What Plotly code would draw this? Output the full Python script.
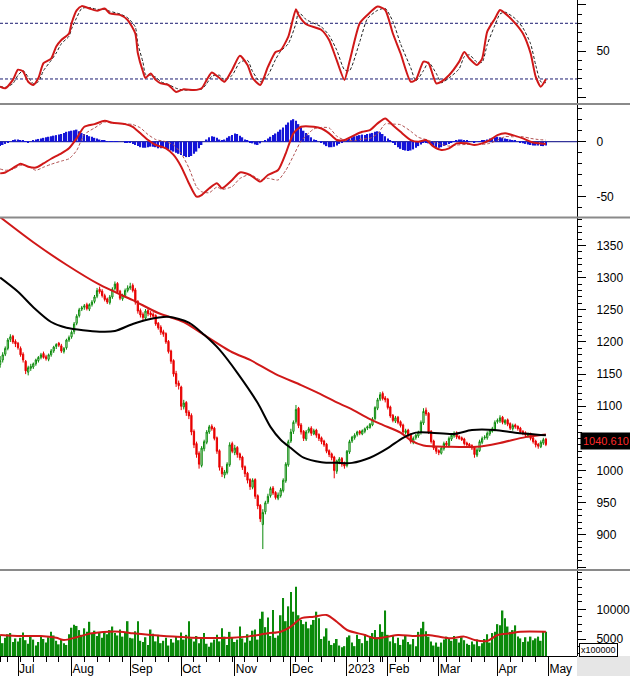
import pandas as pd
import plotly.graph_objects as go

# ---------------- categories (trading days) ----------------
holidays = ['2022-09-01', '2022-09-02', '2023-01-02', '2023-01-20', '2023-01-23',
            '2023-01-24', '2023-01-25', '2023-01-26']
dates = [d for d in pd.bdate_range('2022-06-22', '2023-04-28')
         if d.strftime('%Y-%m-%d') not in holidays]
month_labels = ['Jul', 'Aug', 'Sep', 'Oct', 'Nov', 'Dec', '2023', 'Feb', 'Mar', 'Apr', 'May']
price_ticks = [850, 900, 950, 1000, 1050, 1100, 1150, 1200, 1250, 1300, 1350]
price_tick_text = ['', '900', '950', '1000', '', '1100', '1150', '1200', '1250', '1300', '1350']

# ---------------- price (OHLC) ----------------
opens = [1165, 1172, 1181, 1190, 1204, 1209, 1201,
         1198, 1190, 1181, 1170, 1153, 1159, 1161, 1166, 1171, 1176, 1182, 1177, 1173, 1180, 1186, 1193, 1198, 1194, 1185, 1191, 1203,
         1208, 1216, 1229, 1241, 1251, 1254, 1258, 1251, 1258, 1263, 1271, 1282, 1279, 1272, 1267, 1261, 1270, 1283, 1291, 1279, 1267, 1272, 1280,
         1284, 1288, 1281, 1263, 1249, 1243, 1237, 1249, 1245, 1243, 1241, 1229, 1223, 1216, 1213, 1201, 1186, 1171, 1151, 1136,
         1130, 1099, 1106, 1091, 1086, 1061, 1042, 1027, 1008, 1034, 1044, 1060, 1069, 1066, 1051, 1031, 1004, 993, 997, 1009, 1042,
         1028, 1036, 1026, 1021, 1006, 996, 986, 974, 986, 961, 946, 916, 936, 951, 961, 973, 966, 957, 961, 969, 984, 1009,
         1046, 1061, 1076, 1097, 1071, 1061, 1049, 1061, 1066, 1057, 1063, 1056, 1051, 1046, 1041, 1031, 1026, 1021, 999, 1014, 1019, 1011,
         1008, 1029, 1046, 1051, 1056, 1061, 1057, 1061, 1066, 1067, 1071, 1081, 1097, 1111, 1120, 1113,
         1111, 1099, 1086, 1077, 1083, 1076, 1071, 1059, 1063, 1056, 1044, 1051, 1054, 1059, 1074, 1094, 1089, 1061, 1046, 1036,
         1031, 1027, 1034, 1043, 1039, 1049, 1054, 1059, 1053, 1051, 1049, 1043, 1041, 1039, 1036, 1024, 1031, 1044, 1051, 1051, 1057, 1061, 1064,
         1076, 1077, 1083, 1074, 1079, 1073, 1065, 1071, 1069, 1066, 1061, 1059, 1054, 1057, 1051, 1046, 1041, 1037, 1043, 1049]
highs = [1178, 1184, 1193, 1206, 1212, 1211, 1204,
         1200, 1193, 1184, 1172, 1163, 1166, 1168, 1174, 1178, 1183, 1185, 1180, 1182, 1189, 1194, 1198, 1200, 1197, 1192, 1205, 1210,
         1218, 1231, 1243, 1253, 1256, 1259, 1261, 1260, 1265, 1273, 1284, 1286, 1282, 1275, 1269, 1273, 1285, 1294, 1293, 1281, 1275, 1283, 1288,
         1292, 1291, 1284, 1265, 1252, 1246, 1251, 1252, 1248, 1246, 1243, 1231, 1226, 1219, 1215, 1203, 1188, 1173, 1155, 1140,
         1132, 1110, 1108, 1094, 1089, 1064, 1045, 1030, 1038, 1048, 1063, 1071, 1072, 1068, 1053, 1033, 1007, 1001, 1013, 1044, 1045,
         1040, 1038, 1028, 1023, 1008, 998, 988, 988, 988, 963, 948, 940, 953, 964, 975, 976, 968, 966, 973, 988, 1013, 1048,
         1065, 1078, 1102, 1099, 1074, 1063, 1063, 1068, 1069, 1065, 1065, 1058, 1053, 1048, 1043, 1033, 1028, 1023, 1017, 1021, 1021, 1014,
         1032, 1048, 1054, 1058, 1062, 1063, 1064, 1067, 1070, 1074, 1083, 1100, 1113, 1122, 1123, 1116,
         1113, 1101, 1088, 1085, 1085, 1078, 1073, 1065, 1065, 1058, 1053, 1057, 1062, 1078, 1097, 1098, 1091, 1063, 1048, 1038,
         1033, 1038, 1045, 1046, 1053, 1058, 1061, 1061, 1055, 1053, 1051, 1045, 1043, 1041, 1038, 1035, 1048, 1053, 1055, 1061, 1064, 1068, 1078,
         1081, 1086, 1085, 1080, 1081, 1075, 1073, 1073, 1070, 1068, 1063, 1061, 1059, 1059, 1053, 1048, 1043, 1047, 1051, 1051]
lows = [1160, 1168, 1178, 1187, 1200, 1197, 1192,
        1188, 1177, 1168, 1150, 1148, 1155, 1158, 1163, 1168, 1173, 1174, 1171, 1170, 1177, 1183, 1189, 1192, 1183, 1182, 1188, 1200,
        1205, 1212, 1226, 1238, 1248, 1250, 1249, 1248, 1255, 1260, 1268, 1275, 1269, 1263, 1259, 1258, 1267, 1280, 1275, 1265, 1264, 1269, 1277,
        1281, 1277, 1258, 1244, 1238, 1233, 1235, 1240, 1238, 1236, 1225, 1219, 1211, 1208, 1197, 1182, 1166, 1146, 1130, 1126,
        1094, 1095, 1085, 1080, 1055, 1035, 1020, 1003, 1005, 1030, 1041, 1057, 1062, 1047, 1026, 1000, 990, 988, 994, 1006, 1027,
        1024, 1020, 1016, 1001, 990, 980, 970, 971, 956, 940, 920, 878, 932, 948, 958, 962, 955, 954, 958, 966, 981, 1006,
        1043, 1057, 1073, 1066, 1056, 1046, 1046, 1058, 1054, 1055, 1051, 1046, 1041, 1037, 1027, 1021, 1016, 988, 995, 1010, 1006, 1003,
        1005, 1026, 1043, 1048, 1053, 1055, 1055, 1058, 1063, 1065, 1069, 1078, 1094, 1108, 1109, 1106,
        1095, 1082, 1075, 1074, 1072, 1067, 1057, 1056, 1052, 1042, 1041, 1048, 1051, 1056, 1071, 1085, 1057, 1042, 1032, 1026,
        1024, 1025, 1031, 1037, 1036, 1046, 1051, 1049, 1048, 1046, 1039, 1037, 1035, 1032, 1020, 1021, 1029, 1041, 1048, 1048, 1054, 1059, 1061,
        1073, 1074, 1072, 1071, 1069, 1063, 1062, 1065, 1062, 1058, 1055, 1052, 1051, 1047, 1042, 1036, 1034, 1035, 1040, 1038]
closes = [1171, 1180, 1190, 1203, 1208, 1200, 1197,
          1191, 1180, 1172, 1155, 1160, 1162, 1166, 1172, 1176, 1180, 1176, 1174, 1180, 1186, 1192, 1196, 1195, 1186, 1190, 1203, 1207,
          1215, 1228, 1240, 1250, 1253, 1256, 1252, 1258, 1262, 1270, 1280, 1278, 1272, 1266, 1262, 1270, 1282, 1290, 1278, 1268, 1272, 1280, 1284,
          1286, 1280, 1262, 1248, 1242, 1238, 1248, 1244, 1242, 1240, 1228, 1222, 1215, 1212, 1200, 1185, 1170, 1150, 1135, 1132,
          1100, 1105, 1090, 1085, 1060, 1040, 1025, 1010, 1035, 1045, 1060, 1068, 1065, 1050, 1030, 1005, 995, 998, 1010, 1040, 1030,
          1035, 1025, 1020, 1005, 995, 985, 975, 985, 960, 945, 925, 935, 950, 960, 972, 965, 958, 962, 970, 985, 1010, 1045,
          1060, 1075, 1095, 1070, 1060, 1050, 1060, 1065, 1058, 1062, 1055, 1050, 1045, 1040, 1030, 1025, 1020, 1000, 1015, 1018, 1010, 1007,
          1030, 1045, 1052, 1055, 1060, 1058, 1062, 1065, 1068, 1072, 1080, 1098, 1110, 1118, 1112, 1110,
          1098, 1085, 1078, 1082, 1075, 1070, 1060, 1062, 1055, 1045, 1050, 1055, 1060, 1075, 1092, 1088, 1060, 1045, 1035, 1030,
          1028, 1035, 1042, 1040, 1050, 1055, 1058, 1052, 1050, 1048, 1042, 1040, 1038, 1035, 1025, 1032, 1045, 1050, 1052, 1058, 1062, 1065, 1075,
          1078, 1082, 1075, 1078, 1072, 1066, 1070, 1068, 1065, 1060, 1058, 1055, 1056, 1050, 1045, 1040, 1038, 1044, 1048, 1040.61]

# moving averages on price (sampled at bar positions)
ma_red_x = [0, 13, 26, 39, 52, 62, 72, 78, 91, 98, 108, 118, 124, 132, 137, 145, 150, 157, 161, 166, 176, 187, 196, 206, 214]
ma_red = [1394, 1355, 1320, 1289, 1265, 1245, 1231, 1216, 1184, 1172, 1150, 1133, 1122, 1106, 1097, 1080, 1071, 1059, 1047, 1039,
          1037, 1037, 1043, 1052, 1056]
ma_black_x = [0, 7, 13, 20, 26, 39, 45, 52, 58, 66, 74, 80, 86, 93, 101, 106, 110, 114, 119, 126, 132, 138, 145, 152, 158, 163,
              169, 178, 185, 194, 202, 214]
ma_black = [1300, 1278, 1254, 1231, 1222, 1216, 1217, 1228, 1235, 1239, 1230, 1211, 1188, 1152, 1105, 1068, 1048, 1035, 1020, 1013,
            1012, 1012, 1020, 1035, 1051, 1059, 1059, 1057, 1063, 1063, 1059, 1055]

# ---------------- volume (x100000) ----------------
volume = [5600, 4300, 5200, 5800, 6000, 4500, 5100,
          4600, 5200, 6100, 4800, 4200, 5600, 4900, 3900, 4500, 5400, 5000, 4400, 5300, 6200, 5600, 4700, 4100, 5000, 4300, 4000, 5800,
          6900, 7400, 7200, 6500, 5700, 6800, 6200, 7900, 5900, 6400, 5500, 6100, 5200, 6300, 5800, 6500, 7100, 6000, 5600, 6600, 5400, 6100, 8000,
          5200, 5100, 6300, 8000, 4700, 4500, 5300, 4000, 6600, 5900, 4600, 5700, 4300, 4700, 5200, 3900, 5000, 4400, 5500, 4800,
          6100, 4900, 5700, 8000, 5100, 4600, 5500, 4300, 5300, 6000, 4200, 3700, 4400, 4900, 5700, 4600, 6800, 5400, 4000, 6200, 5200,
          4500, 4900, 7100, 5100, 4400, 5800, 4700, 6400, 6600, 4900, 8400, 9600, 7000, 8600, 5500, 9900, 5200, 5600, 9000, 11900, 8000, 10500,
          12900, 9600, 13800, 9000, 8200, 7500, 7900, 6800, 7400, 8200, 9600, 8500, 5000, 5400, 6800, 4700, 4000, 4300, 5000, 3900, 3600, 3800,
          5300, 5600, 4400, 3800, 5700, 5000, 4300, 5800, 4700, 5500, 6000, 6500, 5300, 7500, 6200, 9800,
          5700, 4600, 5600, 4300, 5200, 4000, 4900, 5600, 4500, 4100, 5000, 3800, 6200, 6800, 7900, 6300, 5400, 4600, 3900, 4400,
          3700, 4400, 4900, 5400, 5000, 4700, 5500, 5000, 4400, 5300, 4800, 4200, 4000, 4600, 4100, 4900, 3800, 4300, 5000, 5800, 4400, 6000, 6200,
          7500, 7300, 9800, 8500, 7100, 6200, 6500, 7300, 5400, 5100, 4500, 5300, 4600, 5400, 4800, 5100, 5400, 4700, 6200, 6200]
vol_ma_x = [0, 8, 16, 22, 25, 30, 36, 47, 52, 59, 68, 75, 91, 97, 105, 110, 114, 118, 123, 128, 132, 136, 143, 147, 152, 156,
            163, 168, 176, 182, 186, 191, 195, 200, 204, 214]
vol_ma = [5673, 5500, 5500, 5200, 4830, 5300, 5960, 6229, 5960, 5673, 5400, 5230, 5230, 5400, 5960, 6229, 7075, 8485, 8755, 9040,
          7912, 6515, 5673, 5118, 5400, 5673, 5500, 5673, 5118, 5400, 4830, 4660, 5673, 5960, 6229, 6229]

# ---------------- oscillator (top panel) ----------------
osc_x = [0, 2, 5, 7, 9, 11, 13, 15, 17, 20, 22, 24, 27, 28, 30, 32, 35, 38, 41, 43, 47, 50, 53, 54, 56, 57, 59, 61, 63, 66,
         69, 72, 76, 79, 81, 83, 86, 88, 91, 94, 97, 99, 102, 105, 108, 110, 113, 116, 117, 120, 126, 129, 132, 135, 137,
         141, 144, 148, 151, 154, 157, 161, 163, 166, 168, 171, 173, 176, 180, 182, 184, 187, 189, 191, 194, 196, 198, 202,
         205, 208, 210, 212, 214]
osc = [11.7, 10, 19, 30, 28, 17, 13.5, 21, 37, 42, 55, 62, 69, 80, 94, 98.5, 96, 93.5, 96, 90.7, 89, 83.6, 69, 47.7, 28,
       21, 26, 19, 15.3, 13.5, 6, 9, 8, 10, 19, 27, 21, 17, 30, 45, 35, 21, 13.5, 33, 49, 51, 65.6, 95, 89, 79, 72.8, 62, 40,
       19, 38.7, 80, 89, 98, 94.3, 69, 47.7, 17, 19, 38.7, 37, 15.3, 17, 24, 38.7, 49, 42, 35, 42, 71, 85, 94.3, 90.7, 80, 69,
       47.7, 22.5, 11.7, 19.6]
osc_signal = [12, 11, 15, 24, 29, 22, 15, 17, 29, 40, 48, 58, 66, 74, 86, 96, 97, 95, 95, 93, 90, 86, 76, 58, 38, 25, 24,
              22, 17, 14, 10, 8, 8.5, 9, 15, 23, 24, 19, 24, 38, 40, 28, 17, 24, 41, 50, 58, 80, 92, 84, 76, 67, 51, 30, 29,
              60, 85, 94, 96, 82, 58, 32, 18, 29, 38, 26, 16, 21, 31, 44, 46, 38, 38, 57, 78, 90, 92, 85, 75, 58, 35, 17, 16]

# ---------------- MACD ----------------
macd_x = [0, 2, 5, 8, 11, 14, 17, 20, 24, 27, 30, 33, 37, 41, 44, 49, 52, 55, 58, 61, 65, 68, 71, 74, 77, 79, 82, 85, 87, 91,
          94, 98, 102, 105, 109, 112, 115, 118, 123, 126, 129, 132, 135, 139, 142, 145, 148, 151, 154, 157, 161, 164, 167,
          170, 173, 176, 179, 183, 186, 189, 192, 195, 198, 201, 205, 208, 211, 214]
macd = [-28.8, -28, -24, -20, -22.7, -23.5, -19.7, -15.5, -10.6, -6, 3, 13.6, 16, 19, 17.3, 16, 13.6, 7.6, 1.5, -3,
        -6, -12, -22.7, -37.8, -50, -48.5, -42.4, -37.8, -42.4, -34.8, -28, -30.3, -36.3, -30.3, -25.8, -10.6, 7.6, 13.6,
        13.6, 12, 7.6, 1.5, 1.5, 6, 9, 10.6, 16.7, 21.2, 15, 9, 1.5, 0, 1.5, -4.5, -7.5, -6, -1.5, -1.5, -3, -1.5, 1.5, 6,
        7.6, 6, 3, 0, -1.5, -2]
macd_signal = [-24.8, -26, -25, -21.5, -22.2, -26, -23.2, -20.5, -17.6, -15.5, -8, 6.6, 12.5, 18, 16.8, 16.3, 15.6, 12.6,
               6.5, 2, 0, -3, -10.7, -23.8, -41, -45.5, -46.4, -41.3, -43.4, -40.8, -33.5, -29.8, -34.8, -33.3, -34.8,
               -26.1, -12.9, 0.6, 11.6, 13, 12.6, 5, 1.5, 1, 2.5, 3.1, 7.2, 16.2, 16, 15.5, 9.5, 4, 2, -0.5, -2.5, -4, -3,
               -2.5, -2.5, -2.5, -1.5, 1.5, 4.6, 4.5, 4.5, 3, 2, 1.5]
macd_hist = [-4, -3, -2, -1, 0,
             1, 2, 2, 1.5, 1, 0.5,
             -0.5, 0, 1, 2, 2.5, 3,
             3.5, 4, 4.5, 5, 5.5, 6,
             6.5, 7, 8, 9, 9.5, 10, 10.5, 11,
             9.5, 8, 7, 6, 5, 4.5,
             3.5, 3, 2, 1.5, 1, 0.5,
             0.5, 0.5, 0.3, 0.2, 0, 0, -0.3, -0.5, -1, -2,
             -3, -4, -5, -5.5, -5.5, -5, -4.5, -4.5, -5, -6,
             -6, -5.5, -6, -7, -8, -9, -10, -11, -12, -13,
             -14, -14, -13, -11, -9, -6, -3,
             0, 2, 4, 5, 4.5, 3.5, 2,
             1, 2, 3.5, 5, 6, 7.5, 7, 5.5,
             4, 2, 1, -0.5, -1.5, -2.5, -3, -1.5,
             0, 1.5, 3, 4.5, 6, 7.5, 9, 11,
             13, 15.5, 17.5, 19.5, 20.5, 19, 16,
             13, 10, 8, 6, 4, 2, 1,
             0, -1, -2.5, -4, -5, -5,
             -4.5, -3.5, -2, -1, 0, 1,
             2.5, 4, 5, 5.5, 6, 6.5, 6, 7, 7.5, 8, 9, 9.5, 8.5, 7, 5,
             3, 1, -1, -3, -5,
             -6.5, -7.5, -8, -8.5, -8, -7, -5.5, -4, -2.5,
             -1, -0.5, -1.5, -3, -4, -5, -5.5, -5, -4, -3, -2,
             -1, 0.5, 1.5, 2, 2, 1.5, 1, 0.5, 0, -0.5, 0, 0.5,
             1, 1.5, 2, 3, 3.5, 4, 4.5, 4, 3.5, 3, 2.5, 2, 1.5, 1, 0, -0.5,
             -1.5, -2, -2.5, -3, -3.5, -3.5, -3.5, -4, -4, -3.5]

n = len(dates)
assert n == len(closes) == len(opens) == len(highs) == len(lows) == len(volume) == len(macd_hist), \
    (n, len(closes), len(opens), len(highs), len(lows), len(volume), len(macd_hist))
idx = list(range(n))

# axis tick positions derived from the trading-day categories
month_idx = [i for i in range(1, n) if dates[i].month != dates[i - 1].month] + [n]
week_idx = [i for i in range(n) if i == 0 or dates[i].isocalendar()[1] != dates[i - 1].isocalendar()[1]]

RED = '#d01818'
GREEN = '#0a8a0a'
FONT = 'Liberation Sans, Arial, sans-serif'

fig = go.Figure()
# top oscillator
fig.add_trace(go.Scatter(x=osc_x, y=osc_signal, mode='lines', xaxis='x', yaxis='y',
                         line=dict(color='#222222', width=1, dash='3px,2px', shape='spline', smoothing=0.6)))
fig.add_trace(go.Scatter(x=osc_x, y=osc, mode='lines', xaxis='x', yaxis='y',
                         line=dict(color=RED, width=2, shape='spline', smoothing=0.6)))
# MACD
fig.add_trace(go.Bar(x=idx, y=macd_hist, xaxis='x', yaxis='y2', marker=dict(color='#1414d8', line=dict(width=0)),
                     width=0.6))
fig.add_trace(go.Scatter(x=macd_x, y=macd_signal, mode='lines', xaxis='x', yaxis='y2',
                         line=dict(color='#b05050', width=1, dash='3px,2px', shape='spline', smoothing=0.6)))
fig.add_trace(go.Scatter(x=macd_x, y=macd, mode='lines', xaxis='x', yaxis='y2',
                         line=dict(color=RED, width=2, shape='spline', smoothing=0.6)))
# price
fig.add_trace(go.Candlestick(x=idx, open=opens, high=highs, low=lows, close=closes, xaxis='x', yaxis='y3',
                             increasing=dict(line=dict(color=GREEN, width=1), fillcolor='white'),
                             decreasing=dict(line=dict(color='#e80000', width=1), fillcolor='#e80000'),
                             whiskerwidth=0))
fig.add_trace(go.Scatter(x=ma_red_x, y=ma_red, mode='lines', xaxis='x', yaxis='y3',
                         line=dict(color=RED, width=2, shape='spline', smoothing=0.8)))
fig.add_trace(go.Scatter(x=ma_black_x, y=ma_black, mode='lines', xaxis='x', yaxis='y3',
                         line=dict(color='black', width=2, shape='spline', smoothing=0.8)))
# volume
fig.add_trace(go.Bar(x=idx, y=volume, xaxis='x', yaxis='y4', marker=dict(color=GREEN, line=dict(width=0)), width=0.65))
fig.add_trace(go.Scatter(x=vol_ma_x, y=vol_ma, mode='lines', xaxis='x', yaxis='y4',
                         line=dict(color=RED, width=2, shape='spline', smoothing=0.8)))

H = 656.0  # plot area height in px


def dom(top_px, bot_px):
    return [(H - bot_px) / H, (H - top_px) / H]


yax_common = dict(side='right', anchor='x', showline=True, linecolor='black', linewidth=1, ticks='outside',
                  ticklen=8, tickcolor='black', showgrid=False, zeroline=False, ticklabelstandoff=8,
                  tickfont=dict(family=FONT, size=12, color='black'), fixedrange=True)

fig.update_layout(
    width=630, height=676, margin=dict(l=0, r=53, t=0, b=20),
    paper_bgcolor='white', plot_bgcolor='white', showlegend=False, barmode='overlay',
    font=dict(family=FONT, size=12, color='black'),
    xaxis=dict(domain=[0, 1], range=[-0.06, 226.2], anchor='y4', showline=True, linecolor='black',
               ticks='outside', tickmode='array', tickvals=month_idx, ticktext=month_labels, ticklen=20,
               tickcolor='black', ticklabelposition='outside right', ticklabelstandoff=2,
               tickfont=dict(family=FONT, size=12, color='black'),
               minor=dict(tickmode='array', tickvals=week_idx, ticklen=5, tickcolor='black', ticks='outside'),
               showgrid=False, zeroline=False, rangeslider=dict(visible=False), fixedrange=True),
    yaxis=dict(domain=dom(0, 103), range=[-5.9, 105.1], tickmode='array', tickvals=[0, 50, 100],
               ticktext=['', '50', ''], minor=dict(dtick=10, ticklen=4, tickcolor='black', ticks='outside'),
               **yax_common),
    yaxis2=dict(domain=dom(105, 217), range=[-68.5, 33.4], tickmode='array', tickvals=[-50, 0],
                ticktext=['-50', '0'], minor=dict(dtick=10, ticklen=4, tickcolor='black', ticks='outside'),
                **yax_common),
    yaxis3=dict(domain=dom(218, 569), range=[847, 1392.7], tickmode='array', tickvals=price_ticks,
                ticktext=price_tick_text,
                minor=dict(dtick=10, ticklen=4, tickcolor='black', ticks='outside'), **yax_common),
    yaxis4=dict(domain=dom(571, 656), range=[2138, 16448], tickmode='array', tickvals=[5000, 10000],
                ticktext=['5000', '10000'], minor=dict(dtick=1250, ticklen=4, tickcolor='black', ticks='outside'),
                **yax_common),
)

XR = 630 / 577.0
shapes = []
for ypx in (104, 217.5, 570):
    shapes.append(dict(type='line', xref='paper', yref='paper', x0=0, x1=XR, y0=(H - ypx) / H, y1=(H - ypx) / H,
                       line=dict(color='#8a8a8a', width=2)))
for lvl in (80, 20):
    shapes.append(dict(type='line', xref='paper', yref='y', x0=0, x1=1, y0=lvl, y1=lvl,
                       line=dict(color='#1a1a70', width=1, dash='3px,2px'), layer='below'))
shapes.append(dict(type='line', xref='paper', yref='y2', x0=0, x1=1, y0=0, y1=0,
                   line=dict(color='#000080', width=1), layer='below'))
shapes.append(dict(type='rect', xref='paper', yref='paper', x0=1.0, x1=XR, y0=-20 / H, y1=0,
                   fillcolor='#e6e6e6', line=dict(width=0)))
fig.update_layout(shapes=shapes)

fig.add_annotation(x=1.006, xref='paper', y=closes[-1], yref='y3', yshift=3, xanchor='left', yanchor='middle',
                   text='1040.610', showarrow=False, bgcolor='black', font=dict(family=FONT, size=11, color='#ff2a2a'),
                   borderpad=2)
fig.add_annotation(x=1.004, xref='paper', y=(H - 650) / H, yref='paper', xanchor='left', yanchor='middle',
                   text='x100000', showarrow=False, bgcolor='white', bordercolor='black', borderwidth=1,
                   borderpad=1, font=dict(family=FONT, size=9, color='black'))

fig.write_html('out.html')
